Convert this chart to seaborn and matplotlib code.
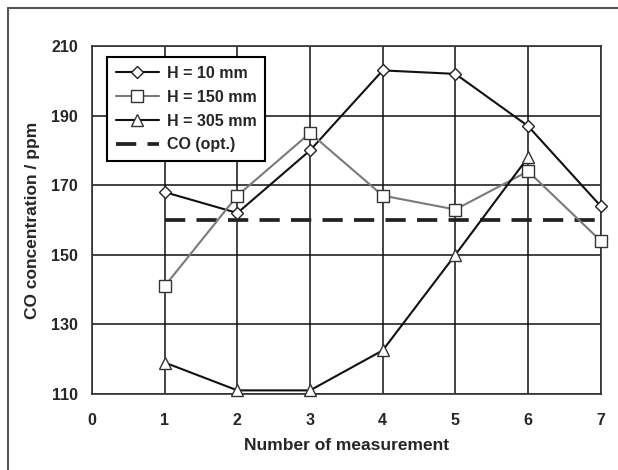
import numpy as np
import pandas as pd
import matplotlib
matplotlib.use("Agg")
import matplotlib.pyplot as plt
from matplotlib.lines import Line2D
import seaborn as sns

# Datos
medicion = [1, 2, 3, 4, 5, 6, 7]
h_10 = [168, 162, 180, 203, 202, 187, 164]
h_150 = [141, 167, 185, 167, 163, 174, 154]
medicion_305 = [1, 2, 3, 4, 5, 6]
h_305 = [119, 111, 111, 122.5, 150, 178]
co_opt_x = [1, 7]
co_opt = [160, 160]

sns.set_style("white")
plt.rcParams['font.family'] = ['Liberation Sans', 'DejaVu Sans']
plt.rcParams['font.weight'] = 'bold'

fig = plt.figure(figsize=(6.18, 4.70), dpi=100)
ax = fig.add_axes([0.149, 0.162, 0.823, 0.740])

df10 = pd.DataFrame({"x": medicion, "y": h_10})
df150 = pd.DataFrame({"x": medicion, "y": h_150})
df305 = pd.DataFrame({"x": medicion_305, "y": h_305})
dfco = pd.DataFrame({"x": co_opt_x, "y": co_opt})

sns.lineplot(data=df10, x="x", y="y", ax=ax, color="#111111", linewidth=1.5,
             marker="D", markersize=6, markerfacecolor="white", markeredgecolor="#222222",
             markeredgewidth=1, label="H = 10 mm", zorder=5, clip_on=False)
sns.lineplot(data=df150, x="x", y="y", ax=ax, color="#7a7a7a", linewidth=1.5,
             marker="s", markersize=8, markerfacecolor="white", markeredgecolor="#333333",
             markeredgewidth=1, label="H = 150 mm", zorder=5, clip_on=False)
sns.lineplot(data=df305, x="x", y="y", ax=ax, color="#111111", linewidth=1.5,
             marker="^", markersize=8, markerfacecolor="white", markeredgecolor="#333333",
             markeredgewidth=1, label="H = 305 mm", zorder=5, clip_on=False)
sns.lineplot(data=dfco, x="x", y="y", ax=ax, color="#222222", linewidth=2.7,
             dashes=False, label="CO (opt.)", zorder=4)
ax.lines[-1].set_dashes([5.4, 3.0])

ax.set_xlim(0, 7)
ax.set_ylim(110, 210)
ax.set_xticks(range(0, 8))
ax.set_yticks(range(110, 211, 20))
ax.grid(True, color="#111111", linewidth=1.1)
ax.set_axisbelow(True)
for s in ax.spines.values():
    s.set_color("#333333")
    s.set_linewidth(1.2)

ax.tick_params(axis="x", length=0, labelsize=11.5, pad=14)
ax.tick_params(axis="y", length=0, labelsize=11.5, pad=10)
for lab in ax.get_xticklabels() + ax.get_yticklabels():
    lab.set_fontweight("bold")
ax.set_xlabel("Number of measurement", fontsize=12.5, fontweight="bold", labelpad=7)
ax.set_ylabel("CO concentration / ppm", fontsize=12.5, fontweight="bold", labelpad=8)

leg = ax.legend(loc="upper left", bbox_to_anchor=(0.029, 0.968), borderaxespad=0,
                fancybox=False, framealpha=1, edgecolor="black", fontsize=11.5,
                handlelength=2.7, handletextpad=0.5, borderpad=0.55, labelspacing=0.55)
leg.get_frame().set_linewidth(1.5)
for t in leg.get_texts():
    t.set_fontweight("bold")
leg.get_lines()[-1].set_dashes([5.4, 3.0])

# marco exterior (solo arriba e izquierda visibles)
fig.add_artist(Line2D([0.013, 1.0], [0.983, 0.983], transform=fig.transFigure,
                      color="#555555", linewidth=1.5))
fig.add_artist(Line2D([0.013, 0.013], [0.0, 0.983], transform=fig.transFigure,
                      color="#555555", linewidth=1.5))

fig.savefig("out.png", dpi=100)
